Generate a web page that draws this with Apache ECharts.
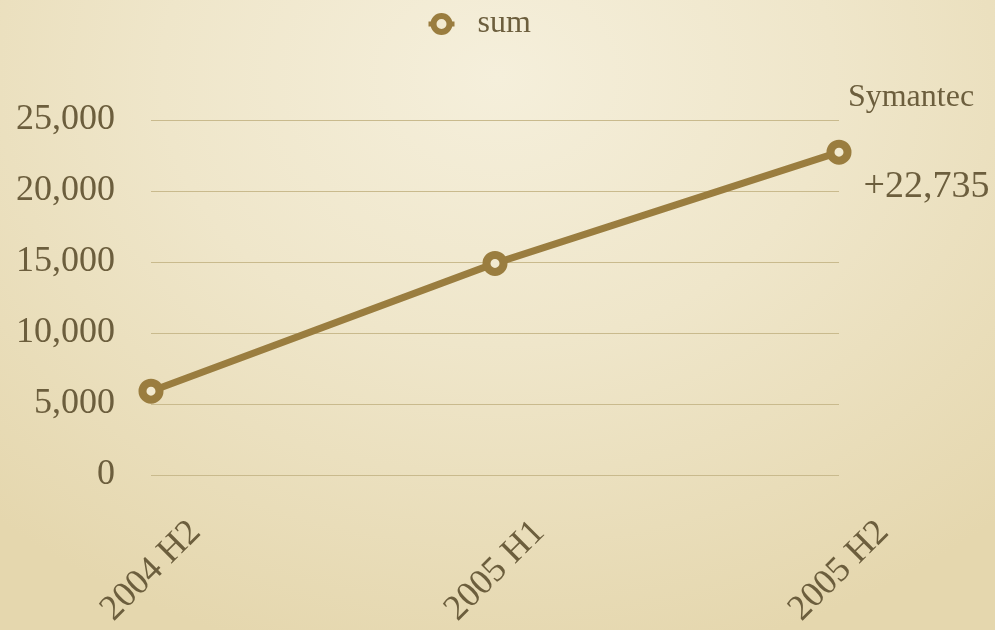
<!DOCTYPE html>
<html>
<head>
<meta charset="utf-8">
<title>Symantec</title>
<script src="https://cdn.jsdelivr.net/npm/echarts@6/dist/echarts.min.js"></script>
<style>
  html, body { margin: 0; padding: 0; overflow: hidden; }
  #chart {
    width: 995px; height: 630px;
    background: radial-gradient(ellipse 75% 95% at 50% 12%, #f5efdb 0%, #efe6ca 45%, #e5d7ae 100%);
  }
</style>
</head>
<body>
<div id="chart"></div>
<script>
// Half-year periods and summed totals
const categories = ['2004 H2', '2005 H1', '2005 H2'];
const sumValues = [5900, 14900, 22735];
const seriesName = 'sum';
const groupTitle = 'Symantec';
const yTicks = { min: 0, max: 25000, interval: 5000 };

const FONT = '"Liberation Serif", "DejaVu Serif", serif';
const INK = '#6c5e3d';
const LINE = '#9a7d3f';
const GRID = '#c9ba8d';
const HOLE = '#f2ead0';

const fmt = v => Number(v).toLocaleString('en-US');

const chart = echarts.init(document.getElementById('chart'), null, { renderer: 'canvas' });

const lastIdx = sumValues.length - 1;
const seriesData = sumValues.map((v, i) => i === lastIdx ? {
  value: v,
  label: {
    show: true,
    position: 'right',
    distance: 12,
    offset: [0, 35],
    formatter: p => '+' + fmt(p.value),
    fontFamily: FONT,
    fontSize: 38,
    color: INK
  }
} : v);

chart.setOption({
  backgroundColor: 'transparent',
  animation: false,
  textStyle: { fontFamily: FONT },
  legend: {
    top: 8,
    left: 426,
    padding: 0,
    itemWidth: 26,
    itemHeight: 20,
    itemStyle: { color: HOLE, borderColor: LINE, borderWidth: 6 },
    lineStyle: { color: LINE, width: 5 },
    textStyle: { fontFamily: FONT, fontSize: 32, color: INK, padding: [0, 0, 0, 18] },
    data: [seriesName]
  },
  grid: { left: 151, right: 156, top: 120, height: 358, containLabel: false },
  xAxis: {
    type: 'category',
    data: categories,
    boundaryGap: false,
    axisLine: { show: false },
    axisTick: { show: false },
    splitLine: { show: false },
    axisLabel: {
      rotate: 45,
      align: 'center',
      verticalAlign: 'middle',
      margin: 96,
      fontFamily: FONT,
      fontSize: 36,
      color: INK
    }
  },
  yAxis: {
    type: 'value',
    min: yTicks.min,
    max: yTicks.max,
    interval: yTicks.interval,
    axisLine: { show: false },
    axisTick: { show: false },
    splitLine: { lineStyle: { color: GRID, width: 1 } },
    axisLabel: {
      margin: 36,
      padding: [4, 0, 0, 0],
      formatter: v => fmt(v),
      fontFamily: FONT,
      fontSize: 36,
      color: INK
    }
  },
  series: [{
    name: seriesName,
    type: 'line',
    data: seriesData,
    symbol: 'circle',
    symbolSize: 17,
    showAllSymbol: true,
    lineStyle: { color: LINE, width: 7 },
    itemStyle: { color: HOLE, borderColor: LINE, borderWidth: 8 },
    markPoint: {
      symbol: 'circle',
      symbolSize: 0,
      silent: true,
      data: [{
        coord: [categories[lastIdx], sumValues[lastIdx]],
        label: {
          show: true,
          position: 'inside',
          offset: [72, -55],
          formatter: groupTitle,
          fontFamily: FONT,
          fontSize: 32,
          color: INK
        }
      }]
    }
  }]
});
</script>
</body>
</html>
